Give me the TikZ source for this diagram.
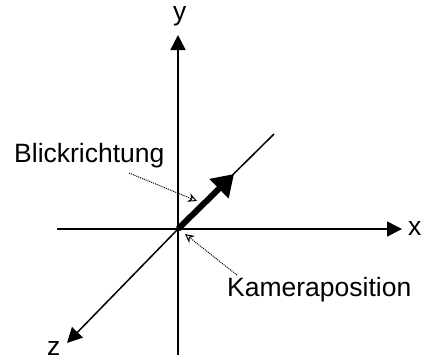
\documentclass[tikz,border=0pt]{standalone}
\usepackage{fontspec}
\setmainfont{Liberation Sans}
\usetikzlibrary{arrows.meta}
\begin{document}
\begin{tikzpicture}[x=1pt,y=-1pt,
  axis/.style={line width=1.5pt,-{Triangle[length=15pt,width=15pt]}},
  plain/.style={line width=1.5pt},
  view/.style={line width=6pt,-{Triangle[length=21pt,width=26pt]}},
  pointer/.style={line width=1pt,dash pattern=on 1pt off 1pt,-{Stealth[open,length=9pt,width=9pt,line width=1pt]}},
  lbl/.style={inner sep=0pt,anchor=base west,font=\fontsize{26.5}{30}\selectfont}]
\useasboundingbox (0,0) rectangle (422,362);
\coordinate (O) at (178,229);
\coordinate (ytop) at (178,35);
\coordinate (ybot) at (178,355);
\coordinate (xl) at (57,229);
\coordinate (xr) at (402,229);
\coordinate (zfar) at (274,134);
\coordinate (znear) at (67,343);
\coordinate (vtip) at (234,174);
\coordinate (p1) at (129,173);
\coordinate (p1t) at (197,201);
\coordinate (p2) at (237,275);
\coordinate (p2t) at (185,234);
\draw[plain] (ybot) -- (O);
\draw[axis] (O) -- (ytop);
\draw[plain] (xl) -- (O);
\draw[axis] (O) -- (xr);
\draw[plain] (zfar) -- (O);
\draw[axis] (O) -- (znear);
\draw[view] (O) -- (vtip);
\draw[pointer] (p1) -- (p1t);
\draw[pointer] (p2) -- (p2t);
\node[lbl] (ly) at (173,20) {y};
\node[lbl] (lx) at (408,235) {x};
\node[lbl] (lz) at (47,355.5) {z};
\node[lbl] (lb) at (14,162) {Blickrichtung};
\node[lbl] (lk) at (227,296) {Kameraposition};
\end{tikzpicture}
\end{document}
